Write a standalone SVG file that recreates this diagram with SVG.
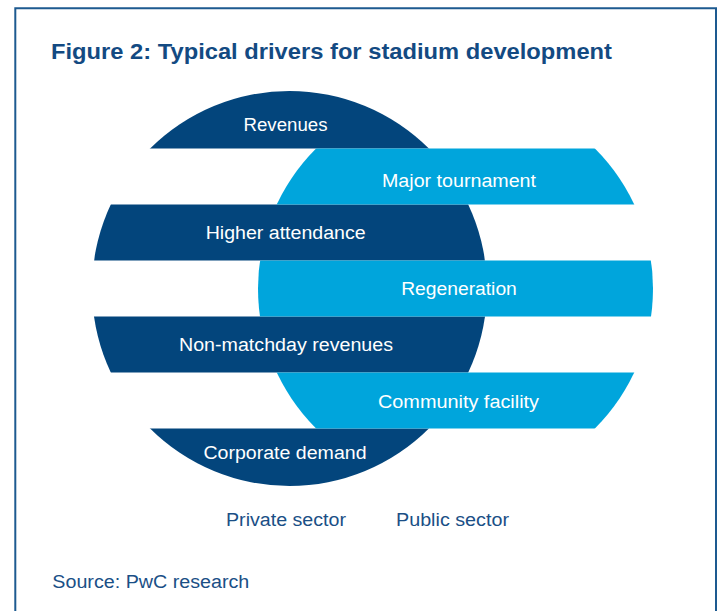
<svg xmlns="http://www.w3.org/2000/svg" width="721" height="611" viewBox="0 0 721 611">
  <style>
    .frame { fill: none; stroke: #1d5a90; stroke-width: 2; }
    .title { font-family: "Liberation Sans", Arial, sans-serif; font-weight: bold; font-size: 22.5px; fill: #134a82; }
    .caption { font-family: "Liberation Sans", Arial, sans-serif; font-size: 18px; fill: #1a4f86; }
    .private { fill: #03457c; }
    .public { fill: #00a5dc; }
    .label { font-family: "Liberation Sans", Arial, sans-serif; font-size: 18px; fill: #ffffff; text-anchor: middle; }
  </style>
  <defs>
    <!-- the two sector discs; each stripe is a band cut from one of them -->
    <clipPath id="privateDisc"><circle cx="289.5" cy="288.5" r="197.5"/></clipPath>
    <clipPath id="publicDisc"><circle cx="455.5" cy="288.5" r="197.5"/></clipPath>
  </defs>

  <rect x="0" y="0" width="721" height="611" fill="#ffffff"/>
  <path class="frame" d="M15.3,620 V8.3 H716 V620"/>

  <text class="title" x="51" y="58.5" textLength="561" lengthAdjust="spacingAndGlyphs">Figure 2: Typical drivers for stadium development</text>

  <!-- private sector bands -->
  <g id="revenues">
    <rect class="private" x="80" y="88" width="420" height="60.5" clip-path="url(#privateDisc)"/>
    <text class="label" x="285.5" y="131" textLength="84" lengthAdjust="spacingAndGlyphs">Revenues</text>
  </g>
  <g id="higher-attendance">
    <rect class="private" x="80" y="204.5" width="420" height="56" clip-path="url(#privateDisc)"/>
    <text class="label" x="285.7" y="239" textLength="160" lengthAdjust="spacingAndGlyphs">Higher attendance</text>
  </g>
  <g id="non-matchday-revenues">
    <rect class="private" x="80" y="316.5" width="420" height="56" clip-path="url(#privateDisc)"/>
    <text class="label" x="286" y="351" textLength="214" lengthAdjust="spacingAndGlyphs">Non-matchday revenues</text>
  </g>
  <g id="corporate-demand">
    <rect class="private" x="80" y="428.5" width="420" height="62" clip-path="url(#privateDisc)"/>
    <text class="label" x="285" y="459.3" textLength="163" lengthAdjust="spacingAndGlyphs">Corporate demand</text>
  </g>

  <!-- public sector bands -->
  <g id="major-tournament">
    <rect class="public" x="250" y="148.5" width="420" height="56" clip-path="url(#publicDisc)"/>
    <text class="label" x="459" y="186.7" textLength="154" lengthAdjust="spacingAndGlyphs">Major tournament</text>
  </g>
  <g id="regeneration">
    <rect class="public" x="250" y="260.5" width="420" height="56" clip-path="url(#publicDisc)"/>
    <text class="label" x="459" y="295" textLength="115.7" lengthAdjust="spacingAndGlyphs">Regeneration</text>
  </g>
  <g id="community-facility">
    <rect class="public" x="250" y="372.5" width="420" height="56" clip-path="url(#publicDisc)"/>
    <text class="label" x="458.5" y="407.5" textLength="161" lengthAdjust="spacingAndGlyphs">Community facility</text>
  </g>

  <!-- legend and source -->
  <text class="caption" x="226" y="526" textLength="120" lengthAdjust="spacingAndGlyphs">Private sector</text>
  <text class="caption" x="396" y="526" textLength="113" lengthAdjust="spacingAndGlyphs">Public sector</text>
  <text class="caption" x="52.3" y="587.5" textLength="197" lengthAdjust="spacingAndGlyphs">Source: PwC research</text>
</svg>
